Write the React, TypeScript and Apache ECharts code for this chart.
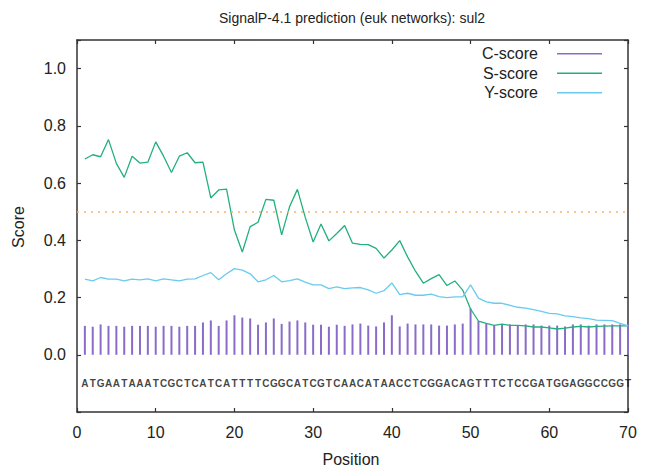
import React, { useEffect, useRef } from "react";
import * as echarts from "echarts";

const sequence = "ATGAATAAATCGCTCATCATTTTCGGCATCGTCAACATAACCTCGGACAGTTTCTCCGATGGAGGCCGGT".split("");

const cScore = [
  0.101, 0.098, 0.106, 0.101, 0.101, 0.098, 0.101, 0.101, 0.101, 0.098,
  0.101, 0.101, 0.098, 0.101, 0.101, 0.113, 0.120, 0.101, 0.120, 0.138,
  0.130, 0.127, 0.105, 0.113, 0.127, 0.108, 0.116, 0.120, 0.113, 0.105,
  0.105, 0.098, 0.105, 0.101, 0.106, 0.109, 0.102, 0.099, 0.113, 0.138,
  0.099, 0.109, 0.106, 0.106, 0.106, 0.102, 0.102, 0.106, 0.109, 0.162,
  0.118, 0.109, 0.102, 0.106, 0.106, 0.102, 0.106, 0.106, 0.102, 0.102,
  0.102, 0.099, 0.106, 0.106, 0.102, 0.106, 0.106, 0.106, 0.106, 0.106,
];

const sScore = [
  0.684, 0.699, 0.692, 0.752, 0.669, 0.620, 0.694, 0.670, 0.673, 0.744,
  0.694, 0.637, 0.694, 0.706, 0.671, 0.673, 0.548, 0.576, 0.579, 0.436,
  0.359, 0.448, 0.463, 0.543, 0.540, 0.419, 0.517, 0.578, 0.480, 0.394,
  0.457, 0.398, 0.424, 0.452, 0.390, 0.386, 0.385, 0.372, 0.338, 0.366,
  0.399, 0.342, 0.292, 0.250, 0.266, 0.280, 0.242, 0.258, 0.226, 0.160,
  0.118, 0.110, 0.103, 0.107, 0.103, 0.103, 0.101, 0.097, 0.097, 0.094,
  0.090, 0.093, 0.097, 0.099, 0.097, 0.099, 0.100, 0.101, 0.101, 0.101,
];

const yScore = [
  0.264, 0.258, 0.270, 0.264, 0.264, 0.258, 0.264, 0.262, 0.265, 0.258,
  0.265, 0.262, 0.258, 0.264, 0.265, 0.277, 0.287, 0.262, 0.283, 0.301,
  0.296, 0.283, 0.255, 0.262, 0.277, 0.255, 0.259, 0.265, 0.254, 0.244,
  0.244, 0.231, 0.237, 0.231, 0.234, 0.235, 0.227, 0.215, 0.224, 0.251,
  0.210, 0.215, 0.208, 0.208, 0.212, 0.203, 0.200, 0.202, 0.202, 0.244,
  0.198, 0.185, 0.180, 0.180, 0.173, 0.166, 0.163, 0.158, 0.152, 0.145,
  0.143, 0.136, 0.133, 0.129, 0.126, 0.121, 0.120, 0.119, 0.110, 0.101,
];

const threshold = 0.5;
const sequenceY = -0.1;

const FONT = "'Liberation Sans', Arial, sans-serif";
const C_COLOR = "#8a6cc8";
const S_COLOR = "#22b07d";
const Y_COLOR = "#69cbee";
const AXIS_COLOR = "#333333";

export default function App() {
  const ref = useRef<HTMLDivElement>(null);
  useEffect(() => {
    if (!ref.current) return;
    const chart = echarts.init(ref.current, null, { renderer: "svg" });
    const pos = (i: number) => i + 1;
    const yLabel = (v: number) => {
      if (v < -0.001 || v > 1.001) return "";
      return v.toFixed(1);
    };
    const tick = { show: true, inside: true, length: 4, lineStyle: { color: AXIS_COLOR, width: 1.2 } };
    const line = { show: true, onZero: false, lineStyle: { color: AXIS_COLOR, width: 1.5 } };
    chart.setOption({
      animation: false,
      backgroundColor: "#ffffff",
      textStyle: { fontFamily: FONT },
      grid: { left: 77, right: 21, top: 40, bottom: 56, show: false },
      graphic: [
        {
          type: "text",
          x: 352,
          y: 18,
          style: {
            text: "SignalP-4.1 prediction (euk networks): sul2",
            font: `14px ${FONT}`,
            fill: "#222",
            textAlign: "center",
            textVerticalAlign: "middle",
          },
        },
        {
          type: "text",
          x: 351,
          y: 459,
          style: {
            text: "Position",
            font: `16px ${FONT}`,
            fill: "#222",
            textAlign: "center",
            textVerticalAlign: "middle",
          },
        },
        {
          type: "text",
          x: 18,
          y: 227,
          rotation: Math.PI / 2,
          style: {
            text: "Score",
            font: `16px ${FONT}`,
            fill: "#222",
            textAlign: "center",
            textVerticalAlign: "middle",
          },
        },
      ],
      legend: {
        orient: "vertical",
        right: 42,
        top: 39,
        align: "right",
        icon: "rect",
        itemWidth: 45,
        itemHeight: 1.5,
        itemGap: 0,
        data: ["C-score", "S-score", "Y-score"],
        textStyle: {
          fontSize: 16,
          color: "#222",
          fontFamily: FONT,
          lineHeight: 19.5,
          padding: [0, 14, 0, 0],
        },
      },
      xAxis: [
        {
          type: "value",
          min: 0,
          max: 70,
          interval: 10,
          position: "bottom",
          axisLine: line,
          splitLine: { show: false },
          axisTick: tick,
          axisLabel: { fontSize: 16, color: "#222", margin: 12, fontFamily: FONT },
        },
        {
          type: "value",
          min: 0,
          max: 70,
          interval: 10,
          position: "top",
          axisLine: line,
          splitLine: { show: false },
          axisTick: tick,
          axisLabel: { show: false },
        },
      ],
      yAxis: [
        {
          type: "value",
          min: -0.2,
          max: 1.1,
          interval: 0.2,
          position: "left",
          axisLine: line,
          splitLine: { show: false },
          axisTick: tick,
          axisLabel: { fontSize: 16, color: "#222", margin: 11, formatter: yLabel, fontFamily: FONT },
        },
        {
          type: "value",
          min: -0.2,
          max: 1.1,
          interval: 0.2,
          position: "right",
          axisLine: line,
          splitLine: { show: false },
          axisTick: tick,
          axisLabel: { show: false },
        },
      ],
      series: [
        {
          name: "C-score",
          type: "bar",
          barWidth: 2,
          itemStyle: { color: C_COLOR },
          data: cScore.map((v, i) => [pos(i), v]),
        },
        {
          name: "S-score",
          type: "line",
          symbol: "none",
          lineStyle: { color: S_COLOR, width: 1.3 },
          itemStyle: { color: S_COLOR },
          data: sScore.map((v, i) => [pos(i), v]),
          markLine: {
            silent: true,
            symbol: "none",
            label: { show: false },
            lineStyle: { color: "#f7b46a", type: [2, 5], width: 1.5 },
            data: [{ yAxis: threshold }],
          },
        },
        {
          name: "Y-score",
          type: "line",
          symbol: "none",
          lineStyle: { color: Y_COLOR, width: 1.3 },
          itemStyle: { color: Y_COLOR },
          data: yScore.map((v, i) => [pos(i), v]),
        },
        {
          name: "seq",
          type: "scatter",
          symbolSize: 0,
          silent: true,
          data: sequence.map((ch, i) => ({ value: [pos(i), sequenceY], name: ch })),
          label: {
            show: true,
            position: "inside",
            formatter: (p: any) => p.name,
            fontSize: 10,
            fontWeight: "bold",
            color: "#111",
            fontFamily: FONT,
          },
        },
      ],
    });
    return () => chart.dispose();
  }, []);
  return <div ref={ref} style={{ width: 649, height: 468, position: "absolute", left: 0, top: 0 }} />;
}
